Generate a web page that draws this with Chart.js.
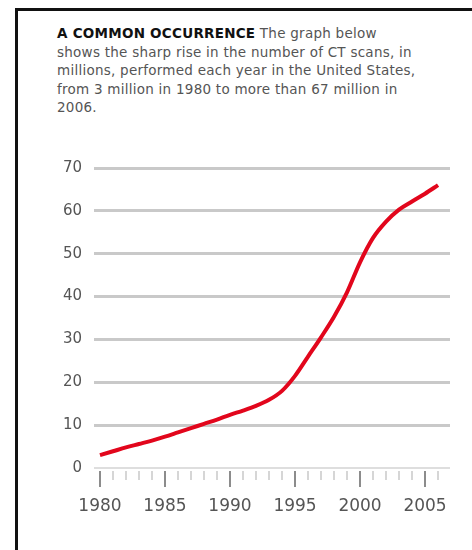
<!DOCTYPE html>
<html>
<head>
<meta charset="utf-8">
<script src="https://cdn.jsdelivr.net/npm/chart.js@4.4.1/dist/chart.umd.min.js"></script>
<style>
    html, body { margin: 0; padding: 0; background: #fff; }
    #wrap { position: relative; width: 472px; height: 550px; overflow: hidden; }
    #frame {
        position: absolute; left: 15px; top: 8px; width: 480px; height: 560px;
        border-left: 3px solid #111; border-top: 3px solid #111;
    }
    #caption {
        position: absolute; left: 57px; top: 24px;
        font-family: "DejaVu Sans", sans-serif; font-size: 13.5px; line-height: 18.5px;
        letter-spacing: 0.25px; color: #555; white-space: nowrap;
    }
    #caption b { color: #111; }
    #ctChart { position: absolute; left: 0; top: 0; }
</style>
</head>
<body>
<div id="wrap">
    <div id="frame"></div>
    <div id="caption"><b>A COMMON OCCURRENCE</b> The graph below<br>shows the sharp rise in the number of CT scans, in<br>millions, performed each year in the United States,<br>from 3 million in 1980 to more than 67 million in<br>2006.</div>
    <canvas id="ctChart" width="472" height="550"></canvas>
</div>
<script>
// CT scans per year in the US, millions
const years = [1980, 1981, 1982, 1983, 1984, 1985, 1986, 1987, 1988, 1989,
               1990, 1991, 1992, 1993, 1994, 1995, 1996, 1997, 1998, 1999,
               2000, 2001, 2002, 2003, 2004, 2005, 2006];
const scans = [3, 3.9, 4.8, 5.6, 6.4, 7.3, 8.3, 9.3, 10.3, 11.3,
               12.4, 13.4, 14.5, 15.9, 18, 21.5, 26, 30.5, 35.3, 41,
               48, 53.7, 57.5, 60.3, 62.2, 64, 66];
const yTicks = [0, 10, 20, 30, 40, 50, 60, 70];
const labelYears = [1980, 1985, 1990, 1995, 2000, 2005];

// year tick marks under the axis: long for labelled years, short otherwise
const yearTicks = {
    id: 'yearTicks',
    afterDraw(chart) {
        const x = chart.scales.x;
        const ctx = chart.ctx;
        const top = chart.chartArea.bottom + 3;
        ctx.save();
        ctx.lineWidth = 2;
        years.forEach(yr => {
            const major = labelYears.includes(yr);
            const px = Math.round(x.getPixelForValue(yr));
            ctx.strokeStyle = major ? '#8c8c8c' : '#d6d6d6';
            ctx.beginPath();
            ctx.moveTo(px, top);
            ctx.lineTo(px, top + (major ? 16 : 9));
            ctx.stroke();
        });
        ctx.restore();
    }
};

new Chart(document.getElementById('ctChart').getContext('2d'), {
    type: 'line',
    data: {
        datasets: [{
            data: years.map((yr, i) => ({ x: yr, y: scans[i] })),
            borderColor: '#e2061c',
            borderWidth: 4,
            pointRadius: 0,
            cubicInterpolationMode: 'monotone',
            fill: false
        }]
    },
    options: {
        responsive: false,
        devicePixelRatio: 1,
        animation: false,
        layout: { padding: { top: 168, right: 22, bottom: 32, left: 0 } },
        plugins: {
            legend: { display: false },
            tooltip: { enabled: false }
        },
        scales: {
            x: {
                type: 'linear',
                min: 1979.54,
                max: 2006.92,
                afterBuildTicks: scale => { scale.ticks = years.map(v => ({ value: v })); },
                afterFit: scale => { scale.height = 50; },
                grid: { display: false },
                border: { display: false },
                ticks: {
                    autoSkip: false,
                    maxRotation: 0,
                    padding: 20,
                    color: '#555',
                    font: { family: 'DejaVu Sans', size: 17 },
                    callback: v => labelYears.includes(v) ? String(v) : ''
                }
            },
            y: {
                min: 0,
                max: 70,
                afterBuildTicks: scale => { scale.ticks = yTicks.map(v => ({ value: v })); },
                afterFit: scale => { scale.width = 94; },
                border: { display: false },
                grid: {
                    drawTicks: false,
                    color: ctx => ctx.tick && ctx.tick.value === 0 ? '#dedede' : '#c9c9c9',
                    lineWidth: ctx => ctx.tick && ctx.tick.value === 0 ? 2 : 3
                },
                ticks: {
                    padding: 12,
                    color: '#555',
                    font: { family: 'DejaVu Sans', size: 15 }
                }
            }
        }
    },
    plugins: [yearTicks]
});
</script>
</body>
</html>
